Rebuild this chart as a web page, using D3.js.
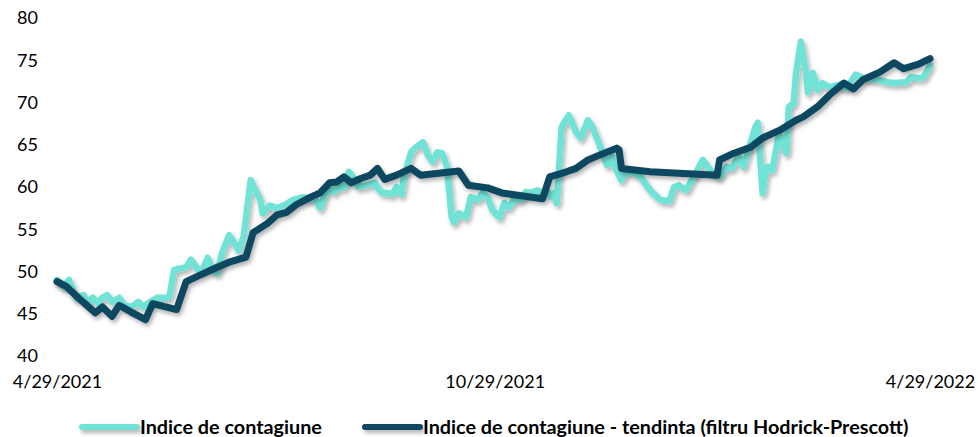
<!DOCTYPE html>
<html>
<head>
<meta charset="utf-8">
<script src="https://cdn.jsdelivr.net/npm/d3@7"></script>
<style>
	body { margin: 0; background: #fff; }
	text { font-family: Lato, "Open Sans", sans-serif; fill: #000; }
</style>
</head>
<body>
<div id="chart"></div>
<script>
// series: days since 4/29/2021 and index value
var startDate = new Date(2021, 3, 29);
var endDate = new Date(2022, 3, 29);

var indexDays = [0, 3, 5, 8, 11, 13, 15, 17, 19, 21, 23, 26, 28, 31, 34, 36, 39, 42, 46, 47,
	49, 52, 54, 56, 59, 61, 63, 65, 67, 69, 72, 74, 76, 78, 81, 83, 85, 86, 89, 92,
	96, 99, 103, 108, 110, 112, 114, 116, 118, 120, 122, 124, 126, 129, 133, 134, 136, 138, 140, 142,
	144, 145, 148, 150, 153, 155, 157, 159, 161, 163, 165, 166, 168, 171, 173, 176, 178, 180, 182, 185,
	187, 189, 191, 194, 196, 198, 201, 202, 205, 207, 208, 209, 211, 212, 214, 217, 219, 220, 222, 224,
	226, 228, 230, 232, 233, 236, 238, 241, 244, 248, 252, 256, 258, 260, 263, 266, 270, 272, 274, 277,
	280, 282, 285, 287, 292, 293, 295, 296, 297, 299, 302, 303, 305, 306, 308, 309, 311, 313, 314, 316,
	318, 320, 323, 327, 330, 334, 337, 343, 347, 350, 355, 357, 360, 362, 364, 365];
var indexValues = [49.0, 48.2, 49.0, 46.9, 47.2, 46.4, 46.9, 46.3, 46.9, 47.2, 46.4, 46.9, 46.0, 45.8, 46.4, 45.8, 46.4, 46.9, 46.9, 47.0,
	50.2, 50.4, 50.5, 51.4, 50.2, 50.2, 51.6, 50.2, 49.8, 52.2, 54.3, 53.4, 52.5, 54.1, 60.8, 59.6, 58.5, 56.9, 57.8, 57.5,
	58.0, 58.5, 58.8, 58.5, 57.5, 59.1, 59.9, 59.4, 60.2, 59.9, 61.8, 61.1, 60.0, 60.2, 60.5, 59.9, 59.3, 59.3, 59.1, 60.0,
	59.1, 61.1, 64.1, 64.7, 65.3, 63.8, 63.0, 64.1, 64.0, 62.5, 56.5, 55.8, 56.9, 56.4, 58.8, 58.5, 59.3, 58.8, 57.3, 56.4,
	58.1, 57.6, 58.5, 58.5, 59.4, 59.3, 59.6, 59.4, 59.4, 58.8, 59.3, 58.1, 67.1, 67.6, 68.5, 66.5, 65.8, 66.5, 67.9, 67.0,
	65.6, 64.1, 62.6, 63.6, 62.6, 60.8, 61.8, 61.7, 61.2, 59.6, 58.5, 58.3, 60.0, 60.2, 59.6, 61.1, 63.2, 62.4, 61.7, 61.2,
	62.4, 62.2, 63.6, 62.4, 67.1, 67.6, 59.3, 61.2, 62.4, 62.0, 66.4, 65.2, 64.0, 69.5, 69.9, 73.5, 77.2, 73.8, 71.2, 73.5,
	71.5, 72.3, 71.8, 72.1, 71.7, 73.3, 72.9, 72.7, 72.4, 72.3, 72.4, 73.0, 72.9, 72.9, 73.8, 74.4];

var trendDays = [0, 4, 10, 16, 19, 23, 26, 31, 37, 40, 50, 54, 60, 67, 72, 79, 82, 88, 92, 96,
	100, 106, 110, 114, 117, 120, 123, 127, 131, 134, 137, 142, 148, 152, 168, 172, 180, 186, 203, 206,
	213, 217, 222, 227, 234, 235, 236, 248, 276, 277, 283, 290, 295, 302, 309, 312, 318, 323, 329, 333,
	337, 344, 350, 354, 360, 365];
var trendValues = [48.8, 48.2, 46.6, 45.1, 45.8, 44.7, 46.0, 45.2, 44.3, 46.2, 45.5, 48.8, 49.6, 50.5, 51.1, 51.7, 54.6, 55.7, 56.7, 57.0,
	57.9, 58.8, 59.3, 60.5, 60.6, 61.2, 60.5, 61.0, 61.4, 62.2, 60.9, 61.4, 62.2, 61.4, 61.9, 60.2, 59.9, 59.3, 58.6, 61.2,
	61.8, 62.2, 63.2, 63.8, 64.6, 64.4, 62.2, 61.8, 61.4, 63.2, 64.0, 64.7, 65.8, 66.7, 67.9, 68.3, 69.5, 70.9, 72.3, 71.6,
	72.7, 73.6, 74.7, 74.0, 74.5, 75.2];

var yTicks = [40, 45, 50, 55, 60, 65, 70, 75, 80];
var xTickLabels = ["4/29/2021", "10/29/2021", "4/29/2022"];
var xTickDates = [startDate, new Date(2021, 9, 29), endDate];

var seriesNames = ["Indice de contagiune", "Indice de contagiune - tendinta (filtru Hodrick-Prescott)"];
var seriesColors = ["#6fe3d6", "#0b4660"];

var svgWidth = 978;
var svgHeight = 437;

var margin = { top: 18, right: 48, bottom: 81, left: 57 };
var width = svgWidth - margin.left - margin.right;
var height = svgHeight - margin.top - margin.bottom;

var svg = d3.select("#chart")
	.append("svg")
	.attr("width", svgWidth)
	.attr("height", svgHeight);

// soft shadow under both lines (user space, so flat legend lines get it too)
var filter = svg.append("defs").append("filter")
	.attr("id", "shadow")
	.attr("filterUnits", "userSpaceOnUse")
	.attr("x", -20).attr("y", -20)
	.attr("width", svgWidth + 40).attr("height", svgHeight + 40);
filter.append("feDropShadow")
	.attr("dx", 2)
	.attr("dy", 3)
	.attr("stdDeviation", 2)
	.attr("flood-color", "#000")
	.attr("flood-opacity", 0.3);

var chartGroup = svg.append("g")
	.attr("transform", `translate(${margin.left}, ${margin.top})`);

var xScale = d3.scaleTime()
	.domain([startDate, endDate])
	.range([0, width]);

var yScale = d3.scaleLinear()
	.domain([40, 80])
	.range([height, 0]);

// y axis labels
var leftAxis = d3.axisLeft(yScale)
	.tickValues(yTicks)
	.tickSize(0)
	.tickPadding(12);

var yAxis = chartGroup.append("g")
	.call(leftAxis);
yAxis.select(".domain").remove();
yAxis.selectAll("text")
	.style("font-size", "18px")
	.attr("text-anchor", "start")
	.attr("x", -40);

// x axis labels
var bottomAxis = d3.axisBottom(xScale)
	.tickValues(xTickDates)
	.tickFormat((d, i) => xTickLabels[i])
	.tickSize(0)
	.tickPadding(19);

var xAxis = chartGroup.append("g")
	.attr("transform", `translate(0, ${height})`)
	.call(bottomAxis);
xAxis.select(".domain").remove();
xAxis.selectAll("text")
	.style("font-size", "18px");

var toPoints = (days, values) => days.map((d, i) => ({ date: d3.timeDay.offset(startDate, d), value: values[i] }));

var line = d3.line()
	.x(d => xScale(d.date))
	.y(d => yScale(d.value));

var series = [toPoints(indexDays, indexValues), toPoints(trendDays, trendValues)];
var lineWidths = [6.5, 7];

chartGroup.selectAll(".series")
	.data(series)
	.enter()
	.append("path")
	.attr("class", "series")
	.attr("d", line)
	.attr("fill", "none")
	.attr("stroke", (d, i) => seriesColors[i])
	.attr("stroke-width", (d, i) => lineWidths[i])
	.attr("stroke-linejoin", "round")
	.attr("stroke-linecap", "round")
	.attr("filter", "url(#shadow)");

// legend
var legendX = [82, 365];
var legend = svg.append("g")
	.attr("transform", `translate(0, ${svgHeight - 10})`);

var legendItems = legend.selectAll(".legend-item")
	.data(seriesNames)
	.enter()
	.append("g")
	.attr("class", "legend-item")
	.attr("transform", (d, i) => `translate(${legendX[i]}, 0)`);

legendItems.append("line")
	.attr("x1", 0)
	.attr("x2", 55)
	.attr("stroke", (d, i) => seriesColors[i])
	.attr("stroke-width", 6)
	.attr("stroke-linecap", "round")
	.attr("filter", "url(#shadow)");

legendItems.append("text")
	.attr("x", 58)
	.attr("dy", "0.35em")
	.style("font-size", "19.8px")
	.style("font-weight", "bold")
	.text(d => d);
</script>
</body>
</html>
